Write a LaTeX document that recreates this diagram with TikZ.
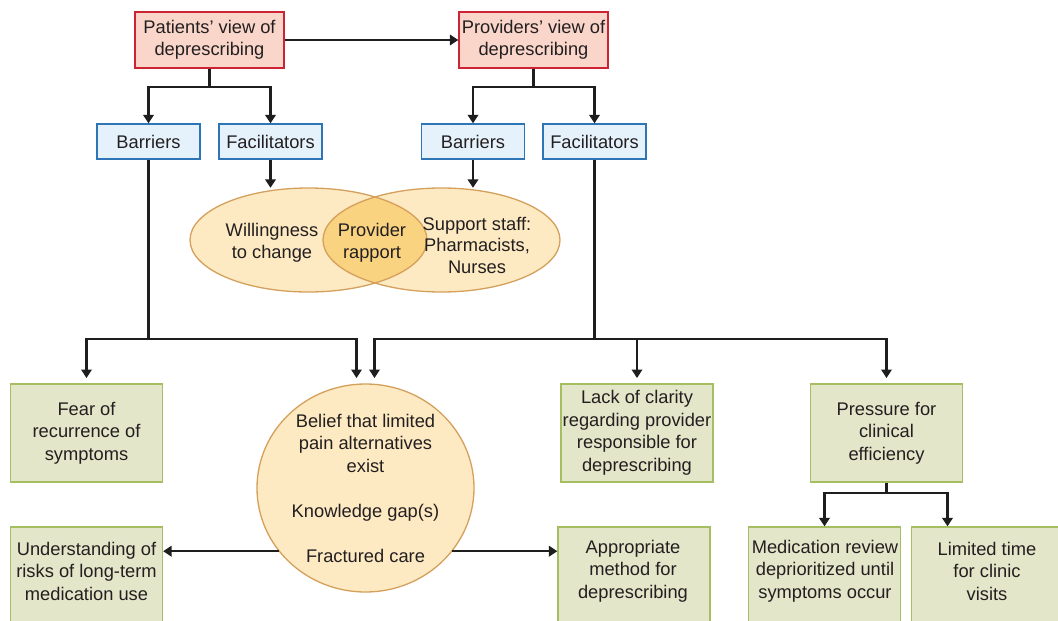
\documentclass[tikz,border=0pt]{standalone}
\usepackage{fontspec}
\setmainfont{Liberation Sans}
\usepackage{xcolor}
\usetikzlibrary{arrows.meta,shapes.geometric,positioning}

\definecolor{inkgray}{RGB}{35,31,32}
\definecolor{inkline}{RGB}{30,30,30}
\definecolor{viewfill}{RGB}{250,214,202}
\definecolor{viewline}{RGB}{204,36,51}
\definecolor{sidefill}{RGB}{230,242,251}
\definecolor{sideline}{RGB}{46,117,182}
\definecolor{findfill}{RGB}{227,230,201}
\definecolor{findline}{RGB}{166,190,98}
\definecolor{vennfill}{RGB}{253,234,194}
\definecolor{vennline}{RGB}{212,160,92}
\definecolor{lensfill}{RGB}{249,211,128}

\begin{document}
\begin{tikzpicture}[
    x=1pt, y=-1pt,
    font=\fontsize{18.3}{22.5}\selectfont,
    every node/.style={text=inkgray},
    viewbox/.style={rectangle, draw=viewline, fill=viewfill, line width=1.3pt, minimum width=149pt, minimum height=56pt, align=center, inner sep=2pt},
    sidebox/.style={rectangle, draw=sideline, fill=sidefill, line width=1.3pt, minimum width=103pt, minimum height=35pt},
    findbox/.style={rectangle, draw=findline, fill=findfill, line width=1.3pt, minimum width=152pt, minimum height=98pt, align=center, inner sep=1pt},
    lowbox/.style={findbox, minimum height=110pt},
    venn/.style={ellipse, fill=vennfill, minimum width=237pt, minimum height=104pt, inner sep=0pt},
    link/.style={draw=inkline, line width=2.1pt},
    arr/.style={link, -{Triangle[width=10.5pt,length=8.5pt]}}
]
    \fill[white] (0,0) rectangle (1058,621);
    \useasboundingbox (0,0) rectangle (1058,621);
    \clip (0,0) rectangle (1058,621);

    % Views
    \node[viewbox] (patients) at (209.5,40) {Patients’ view of\\deprescribing};
    \node[viewbox] (providers) at (533.5,40) {Providers’ view of\\deprescribing};

    % Barriers and facilitators
    \node[sidebox] (barL) at (148.5,141.5) {Barriers};
    \node[sidebox] (facL) at (270.5,141.5) {Facilitators};
    \node[sidebox] (barR) at (473,141.5) {Barriers};
    \node[sidebox] (facR) at (594.5,141.5) {Facilitators};

    \coordinate (topbus) at (0,87);
    \coordinate (lowbus) at (0,339);
    \coordinate (lowtip) at (0,378);
    \coordinate (pbus) at (0,493);

    % Shared facilitators
    \node[venn] (willing) at (308.5,240) {};
    \node[venn] (support) at (441.5,240) {};
    \begin{scope}
        \clip (willing.center) ellipse [x radius=118.5pt, y radius=52pt];
        \fill[lensfill] (support.center) ellipse [x radius=118.5pt, y radius=52pt];
    \end{scope}
    \draw[vennline, line width=1.3pt] (willing.center) ellipse [x radius=118.5pt, y radius=52pt]
        (support.center) ellipse [x radius=118.5pt, y radius=52pt];
    \node[align=center] (willtext) at (272,243) {Willingness\\to change};
    \node[align=center] (rapport) at (372,243) {Provider\\rapport};
    \node[align=center, font=\fontsize{18.3}{21.5}\selectfont] (stafftext) at (477,245) {Support staff:\\Pharmacists,\\Nurses};

    % Findings
    \node[findbox] (fear) at (86.5,433) {Fear of\\recurrence of\\symptoms};
    \node[ellipse, draw=vennline, fill=vennfill, line width=1.3pt, minimum width=217pt, minimum height=208pt, inner sep=0pt] (belief) at (365.5,488) {};
    \node[align=center] (belieftext) at (belief) {Belief that limited\\pain alternatives\\exist\\[22.5pt]Knowledge gap(s)\\[22.5pt]Fractured care};
    \node[findbox] (lack) at (637,433) {Lack of clarity\\regarding provider\\responsible for\\deprescribing};
    \node[findbox] (press) at (886.5,433) {Pressure for\\clinical\\efficiency};

    \node[lowbox] (understand) at (86.5,582) {};
    \node[lowbox] (approp) at (634,582) {};
    \node[lowbox] (medrev) at (824.5,582) {};
    \node[lowbox] (limited) at (987.5,582) {};
    \node[align=center] (understandtext) at (86.5,571) {Understanding of\\risks of long-term\\medication use};
    \node[align=center] (approptext) at (633,571) {Appropriate\\method for\\deprescribing};
    \node[align=center] (medrevtext) at (825,571) {Medication review\\deprioritized until\\symptoms occur};
    \node[align=center] (limitedtext) at (987,571) {Limited time\\for clinic\\visits};

    % Connectors
    \draw[arr] (patients) -- (providers);
    \draw[link] (patients) -- (patients |- topbus);
    \draw[arr] (patients |- topbus) -| (barL.north);
    \draw[arr] (patients |- topbus) -| (facL.north);
    \draw[link] (providers) -- (providers |- topbus);
    \draw[arr] (providers |- topbus) -| (barR.north);
    \draw[arr] (providers |- topbus) -| (facR.north);

    \draw[arr] (facL) -- (facL |- willing.north);
    \draw[arr] (barR) -- (barR |- support.north);

    \draw[link] (barL) -- (barL |- lowbus);
    \draw[arr] (barL |- lowbus) -| (fear.north |- lowtip);
    \draw[arr] (barL |- lowbus) -| ([xshift=-9pt]belief.north |- lowtip);
    \draw[link] (facR) -- (facR |- lowbus);
    \draw[arr] (facR |- lowbus) -| ([xshift=9pt]belief.north |- lowtip);
    \draw[arr] (facR |- lowbus) -| (lack.north |- lowtip);
    \draw[arr] (facR |- lowbus) -| (press.north |- lowtip);

    \draw[arr] (belief.216) -- (understand.east |- belief.216);
    \draw[arr] (belief.-36) -- (approp.west |- belief.-36);

    \draw[link] (press) -- (press |- pbus);
    \draw[arr] (press |- pbus) -| (medrev.north);
    \draw[arr] (press |- pbus) -| ([xshift=-40pt]limited.north);
\end{tikzpicture}
\end{document}
